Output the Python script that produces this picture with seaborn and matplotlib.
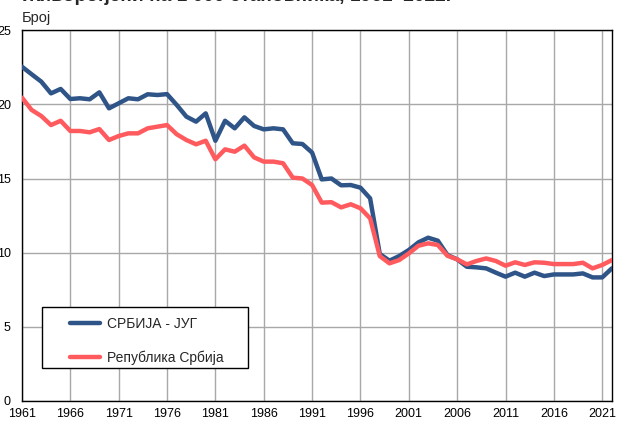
import pandas as pd
import numpy as np
import matplotlib.pyplot as plt
import matplotlib.patches as mpatches
import seaborn as sns

# ---- data ----
years = list(range(1961, 2023))

srbija_jug = [
    22.55, 22.04, 21.54, 20.75, 21.05, 20.37, 20.42, 20.35, 20.82, 19.74,
    20.08, 20.42, 20.35, 20.69, 20.64, 20.70, 19.97, 19.18, 18.84, 19.40,
    17.55, 18.90, 18.39, 19.13, 18.55, 18.32, 18.39, 18.32, 17.38, 17.33,
    16.75, 14.94, 15.00, 14.54, 14.56, 14.38, 13.66, 9.90, 9.45, 9.76,
    10.17, 10.69, 11.00, 10.80, 9.83, 9.54, 9.04, 9.00, 8.93, 8.64,
    8.37, 8.64, 8.37, 8.64, 8.41, 8.52, 8.52, 8.52, 8.59, 8.32,
    8.32, 8.93,
]

republika = [
    20.46, 19.63, 19.22, 18.61, 18.90, 18.21, 18.21, 18.12, 18.34, 17.60,
    17.87, 18.05, 18.05, 18.39, 18.50, 18.61, 17.99, 17.60, 17.31, 17.55,
    16.30, 16.97, 16.81, 17.22, 16.43, 16.14, 16.14, 16.03, 15.06, 15.00,
    14.56, 13.37, 13.40, 13.05, 13.26, 12.99, 12.31, 9.76, 9.27, 9.49,
    9.94, 10.46, 10.62, 10.51, 9.78, 9.54, 9.20, 9.43, 9.60, 9.43,
    9.11, 9.34, 9.16, 9.34, 9.31, 9.22, 9.22, 9.22, 9.31, 8.93,
    9.16, 9.49,
]

series_names = ['СРБИЈА - ЈУГ', 'Република Србија']
colors = ['#2F5487', '#FF5B5F']

xticks = list(range(1961, 2022, 5))
yticks = [0, 5, 10, 15, 20, 25]

df = pd.DataFrame({
    'year': years * 2,
    'value': srbija_jug + republika,
    'series': [series_names[0]] * len(years) + [series_names[1]] * len(years),
})

sns.set_theme(style="white")
plt.rcParams['font.family'] = ['Liberation Sans', 'DejaVu Sans']

fig = plt.figure(figsize=(6.19, 4.23), dpi=100)
ax = fig.add_axes([0.0355, 0.053, 0.953, 0.875])

sns.lineplot(data=df, x='year', y='value', hue='series', hue_order=series_names,
             palette=colors, linewidth=3.2, ax=ax, zorder=3)

ax.set_xlim(1961, 2022)
ax.set_ylim(0, 25)
ax.set_xticks(xticks)
ax.set_yticks(yticks)
ax.set_xticklabels([str(y) for y in xticks], fontsize=9, color='black')
ax.set_yticklabels([str(v) for v in yticks], fontsize=9, color='black')
ax.tick_params(axis='both', length=0)
ax.tick_params(axis='y', pad=8)
ax.tick_params(axis='x', pad=5)
ax.grid(True, color='#A8A8A8', linewidth=1)
ax.set_axisbelow(True)
ax.set_xlabel('')
ax.set_ylabel('')
for s in ax.spines.values():
    s.set_color('black')
    s.set_linewidth(1)

# legend box (white, black edge) drawn by hand for the wide side padding
box = mpatches.Rectangle((0.034, 0.088), 0.349, 0.165, transform=ax.transAxes,
                         facecolor='white', edgecolor='black', linewidth=1,
                         zorder=4)
ax.add_patch(box)
leg = ax.legend(loc='center left', bbox_to_anchor=(0.081, 0.162), fontsize=10,
                frameon=False, handlelength=2.2, handletextpad=0.45,
                labelspacing=1.4, borderpad=0, borderaxespad=0)
leg.set_zorder(5)
for ln in leg.get_lines():
    ln.set_linewidth(3.2)

fig.text(0.0355, 0.997, 'Живорођени на 1 000 становника, 1961–2022.',
         fontsize=13.8, fontweight='bold', va='baseline', ha='left')
fig.text(0.0355, 0.948, 'Број', fontsize=10.5, va='baseline', ha='left')

fig.savefig('out.png', dpi=100)
